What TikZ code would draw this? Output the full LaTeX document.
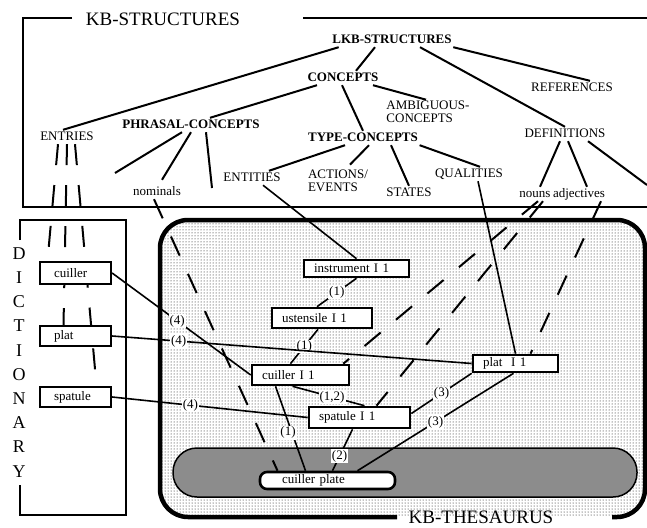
\documentclass[tikz,border=0pt]{standalone}
\usepackage{fontspec}
\setmainfont{Liberation Serif}
\usetikzlibrary{patterns, positioning}
\pgfdeclarelayer{bg}
\pgfdeclarelayer{mid}
\pgfsetlayers{bg,mid,main}

\begin{document}
\begin{tikzpicture}[
    x=1pt, y=-1pt,
    lab/.style={font=\fontsize{13}{12.5}\selectfont, inner sep=1.5pt, text height=9pt, text depth=2pt},
    lab2/.style={font=\fontsize{13}{12.5}\selectfont, inner sep=1.5pt, align=left},
    head/.style={lab, font=\fontsize{13}{12.5}\selectfont\bfseries},
    bigtitle/.style={font=\fontsize{19}{20}\selectfont, inner sep=2pt},
    dictletter/.style={font=\fontsize{18}{18}\selectfont, inner sep=0pt, text height=12pt, text depth=0pt},
    dictbox/.style={draw, fill=white, line width=2.2pt, inner xsep=14pt, inner ysep=0pt, text width=43pt, font=\fontsize{13}{13}\selectfont},
    sense/.style={draw, fill=white, line width=2.6pt, inner xsep=10pt, inner ysep=0pt, font=\fontsize{13}{13}\selectfont},
    num/.style={fill=white, inner sep=1pt, font=\fontsize{13}{13}\selectfont},
    tree/.style={line width=2pt},
    link/.style={line width=1.6pt},
    dashline/.style={line width=2pt, dash pattern=on 21pt off 20pt},
    kbframe/.style={line width=2pt}
]
\useasboundingbox (0,0) rectangle (647,527);

% tree of the KB structures
\node[head] (lkb) at (392,40) {LKB-STRUCTURES};
\node[head] (concepts) at (343,78) {CONCEPTS};
\node[lab2] (ambig) at (428,112) {AMBIGUOUS-\\CONCEPTS};
\node[lab] (refs) at (572,88) {REFERENCES};
\node[lab] (entries) at (67,137) {ENTRIES};
\node[head] (phrasal) at (191,125) {PHRASAL-CONCEPTS};
\node[head] (typec) at (363,138) {TYPE-CONCEPTS};
\node[lab] (defs) at (565,134) {DEFINITIONS};
\node[lab] (entities) at (252,178) {ENTITIES};
\node[lab2] (actions) at (338,181) {ACTIONS/\\EVENTS};
\node[lab] (states) at (409,193) {STATES};
\node[lab] (qual) at (469,174) {QUALITIES};
\node[lab] (nominals) at (157,192) {nominals};
\node[lab] (nouns) at (535,194) {nouns};
\node[lab] (adj) at (579,194) {adjectives};
\coordinate (pl) at (115,173);
\coordinate (pr) at (212,188);
\coordinate (dr) at (647,185);

% frames and titles
\node[bigtitle] (kbs) at (163,19) {KB-STRUCTURES};
\node[bigtitle] (kbt) at (481,517) {KB-THESAURUS};
\foreach \ch [count=\i] in {D,I,C,T,I,O,N,A,R,Y}
  \node[dictletter] (dict\i) at (19,229+24.2*\i) {\ch};

\begin{pgfonlayer}{bg}
\fill[rounded corners=28pt, pattern=dots, pattern color=black] (160,220) rectangle (645,517);
\draw[rounded corners=24pt, fill=black!45, line width=1.5pt] (173,448) rectangle (637,497);
\draw[line width=4.5pt, rounded corners=28pt] (397,517) -- (160,517) -- (160,220) -- (645,220) -- (645,517) -- (612,517);
\draw[kbframe] (72,18) -| (23,207) -- (647,207);
\draw[kbframe] (303,18) -- (647,18);
\draw[line width=2.6pt] (20,240) -- (20,220) -- (126,220) -- (126,515) -- (20,515) -- (20,485);
\end{pgfonlayer}

% dictionary entries
\node[dictbox, minimum height=22pt] (cuiller) at (75.5,273) {cuiller};
\node[dictbox, minimum height=20pt] (plat) at (75.5,336) {plat};
\node[dictbox, minimum height=20pt] (spatule) at (75.5,397) {spatule};

% thesaurus senses
\node[sense, text width=85pt, minimum height=17pt] (instr) at (356.5,268.5) {instrument I 1};
\node[sense, text width=80pt, minimum height=20pt] (usten) at (322,318) {ustensile I 1};
\node[sense, text width=77pt, minimum height=20pt] (cuil1) at (300.5,375) {cuiller I 1};
\node[sense, text width=81pt, minimum height=21pt] (spat1) at (359.5,417.5) {spatule I 1};
\node[sense, text width=65pt, minimum height=17pt] (plat1) at (515.5,363.5) {plat\ \ I 1};
\node[sense, text width=91pt, inner xsep=22pt, minimum height=17pt, rounded corners=7pt] (cplate) at (327.5,480.5) {cuiller plate};

\begin{pgfonlayer}{mid}
% tree edges
\draw[tree] ([xshift=8pt]lkb.south west) -- ([xshift=-4pt]entries.north);
\draw[tree] ([xshift=-17pt]lkb.south) -- ([xshift=13pt]concepts.north);
\draw[tree] ([xshift=28pt]lkb.south) -- (defs.north);
\draw[tree] (lkb.south east) -- ([xshift=18pt]refs.north);
\draw[tree] ([xshift=-26pt]concepts.south) -- ([xshift=19pt]phrasal.north);
\draw[tree] ([xshift=-1pt]concepts.south) -- (typec.north);
\draw[tree] ([xshift=30pt]concepts.south) -- ([xshift=-2pt]ambig.north);
\draw[tree] ([xshift=-9pt]phrasal.south) -- (pl);
\draw[tree] (phrasal.south) -- ([xshift=5pt,yshift=5pt]nominals.north);
\draw[tree] ([xshift=15pt]phrasal.south) -- (pr);
\draw[tree] ([xshift=-18pt]typec.south) -- ([xshift=17pt]entities.north);
\draw[tree] ([xshift=6pt]typec.south) -- ([xshift=12pt,yshift=4pt]actions.north);
\draw[tree] ([xshift=28pt]typec.south) -- (states.north);
\draw[tree] (typec.south east) -- ([xshift=11pt]qual.north);
\draw[tree] ([xshift=-5pt]defs.south) -- ([xshift=5pt]nouns.north);
\draw[tree] ([xshift=3pt]defs.south) -- ([xshift=8pt]adj.north);
\draw[tree] ([xshift=23pt]defs.south) -- (dr);

% entries down to the dictionary
\draw[dashline] ([xshift=-9pt]entries.south) -- ([xshift=-28pt]cuiller.north);
\draw[dashline] (entries.south) -- ([xshift=-12pt]plat.north);
\draw[dashline] ([xshift=8pt]entries.south) -- ([xshift=21pt]spatule.north);

% links between senses
\draw[link] ([xshift=11pt]entities.south) -- (instr.north);
\draw[link] (instr.south) -- node[num] {(1)} ([xshift=-5pt]usten.north);
\draw[link] ([xshift=-4pt]usten.south) -- node[num] {(1)} ([xshift=-10pt]cuil1.north);
\draw[link] ([xshift=-8pt]cuil1.south) -- node[num, pos=.55] {(1,2)} ([xshift=5pt]spat1.north);
\draw[link] ([xshift=-25pt]cuil1.south) -- node[num, pos=.55, xshift=-4pt] {(1)} ([xshift=-22pt]cplate.north);
\draw[link] ([xshift=-7pt]spat1.south) -- node[num, pos=.65] {(2)} ([xshift=5pt]cplate.north);
\draw[link] (plat1.south west) -- node[num] {(3)} ([yshift=4pt]spat1.east);
\draw[link] ([xshift=-2pt]plat1.south) -- node[num] {(3)} ([xshift=30pt]cplate.north);
\draw[link] ([xshift=9pt]qual.south) -- (plat1.north);
\draw[link] (cuiller.east) -- node[num, pos=.47] {(4)} (cuil1.west);
\draw[link] (plat.east) -- node[num, pos=.185] {(4)} (plat1.west);
\draw[link] (spatule.east) -- node[num, pos=.4] {(4)} (spat1.west);

% dashed pointers from the tree
\draw[dashline] ([xshift=-3pt]nominals.south) -- ([xshift=-50pt]cplate.north);
\draw[dashline] ([xshift=3pt]nouns.south) -- ([xshift=-7pt]cuil1.north east);
\draw[dashline] ([xshift=8pt]nouns.south) -- ([xshift=17pt]spat1.north);
\draw[dashline] ([xshift=22pt]adj.south) -- ([xshift=15pt]plat1.north);
\end{pgfonlayer}
\end{tikzpicture}
\end{document}
